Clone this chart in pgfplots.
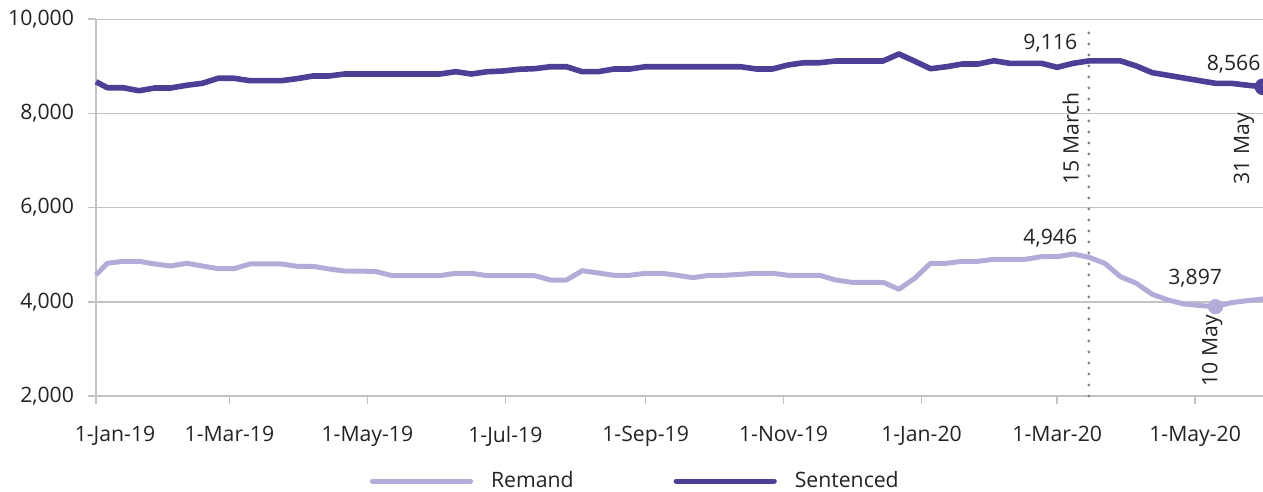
\documentclass[border=0pt]{standalone}
\usepackage{fontspec}
\setmainfont{Open Sans}
\usepackage{pgfplots}
\pgfplotsset{compat=1.18}
\usepackage{pgfplotstable}
\usetikzlibrary{calc}
\definecolor{sent}{RGB}{79,62,150}
\definecolor{rem}{RGB}{180,172,216}
\definecolor{gridc}{RGB}{195,195,195}
\definecolor{txt}{RGB}{35,35,35}
\definecolor{dotc}{RGB}{128,128,128}
\newcommand\f{\fontsize{10.6bp}{12.5bp}\selectfont}

\pgfplotstableread{
day sent rem
0   8674 4570
5   8547 4818
12  8547 4860
19  8483 4860
26  8541 4803
33  8541 4761
40  8598 4818
47  8640 4761
54  8747 4703
61  8747 4703
68  8696 4803
75  8696 4803
82  8696 4803
89  8740 4754
96  8796 4754
103 8796 4697
110 8838 4654
117 8838 4654
124 8838 4640
131 8838 4555
138 8838 4555
145 8838 4555
152 8838 4555
159 8887 4606
166 8838 4606
173 8887 4555
180 8902 4555
187 8938 4555
194 8951 4555
201 8993 4463
208 8993 4463
215 8887 4661
222 8887 4612
229 8944 4563
236 8944 4563
243 8993 4606
250 8993 4606
257 8993 4563
264 8993 4512
271 8993 4563
278 8993 4563
285 8993 4584
292 8944 4606
299 8944 4606
306 9029 4563
313 9078 4563
320 9078 4563
327 9114 4463
334 9114 4415
341 9114 4415
348 9114 4415
355 9263 4266
362 9110 4500
369 8950 4818
376 8993 4818
383 9050 4860
390 9050 4860
397 9120 4903
404 9065 4903
411 9065 4903
418 9065 4958
425 8980 4958
432 9065 5015
439 9116 4946
446 9116 4818
453 9116 4533
460 9008 4393
467 8866 4160
474 8810 4039
481 8753 3954
488 8696 3920
495 8640 3897
502 8640 3982
509 8600 4024
516 8566 4060
}\data

\begin{document}
\begin{tikzpicture}
\begin{axis}[
  scale only axis, width=583.5bp, height=188.35bp,
  xmin=0, xmax=516, ymin=2000, ymax=10000,
  clip=false,
  scaled y ticks=false,
  axis x line*=bottom, axis y line*=left,
  axis line style={gridc, line width=0.8bp, -},
  xtick={59,120,181,243,304,365,425,486},
  xticklabels={1-Mar-19,1-May-19,1-Jul-19,1-Sep-19,1-Nov-19,1-Jan-20,1-Mar-20,1-May-20},
  extra x ticks={0},
  extra x tick labels={1-Jan-19},
  extra x tick style={xticklabel style={xshift=9.5bp}},
  ytick={2000,4000,6000,8000,10000},
  ymajorgrids, grid style={gridc, line width=0.75bp},
  tick align=outside, major tick length=4bp,
  tick style={gridc, line width=0.8bp},
  yticklabel={\pgfmathprintnumber[fixed,precision=0,1000 sep={,},assume math mode=true]{\tick}},
  ticklabel style={font=\f, text=txt},
  xticklabel style={yshift=-7.5bp},
  yticklabel style={xshift=-3.5bp},
  legend style={at={(axis description cs:0.463,-0.226)}, anchor=center,
    draw=none, fill=none, font=\f, text=txt,
    /tikz/every odd column/.append style={column sep=7bp},
    /tikz/every even column/.append style={column sep=48bp}},
  legend columns=2,
  legend image code/.code={\draw[#1, line width=2.6bp, line cap=round] (0bp,0bp) -- (49bp,0bp);},
]
\addplot[rem, line width=2.5bp, line join=round] table[x=day,y=rem]{\data};
\addlegendentry{Remand}
\addplot[sent, line width=2.8bp, line join=round] table[x=day,y=sent]{\data};
\addlegendentry{Sentenced}
\addplot[dotc, line width=1.6bp, dash pattern=on 0bp off 5.5bp, line cap=round, forget plot] coordinates {(439,2000) (439,9880)};
\addplot[only marks, mark=*, mark size=3.6bp, rem, forget plot] coordinates {(495,3897)};
\addplot[only marks, mark=*, mark size=4bp, sent, forget plot] coordinates {(516,8566)};

\node[anchor=east, inner sep=0, font=\f, text=txt] at (axis cs:434,9490) {9,116};
\node[inner sep=0, font=\f, text=txt] at (axis cs:503,9050) {8,566};
\node[anchor=east, inner sep=0, font=\f, text=txt] at (axis cs:434,5349) {4,946};
\node[inner sep=0, font=\f, text=txt] at (axis cs:486,4506) {3,897};
\node[anchor=west, rotate=90, inner sep=0, font=\f, text=txt] at (axis cs:431,6481) {15 March};
\node[anchor=west, rotate=90, inner sep=0, font=\f, text=txt] at (axis cs:507.6,6481) {31 May};
\node[anchor=west, rotate=90, inner sep=0, font=\f, text=txt] at (axis cs:493.5,2191) {10 May};

\coordinate (bl) at (rel axis cs:0,0);
\coordinate (tr) at (rel axis cs:1,1);
\end{axis}
\pgfresetboundingbox
\path ($(bl)+(-48bp,-48bp)$) rectangle ($(tr)+(0bp,9.65bp)$);
\end{tikzpicture}
\end{document}
